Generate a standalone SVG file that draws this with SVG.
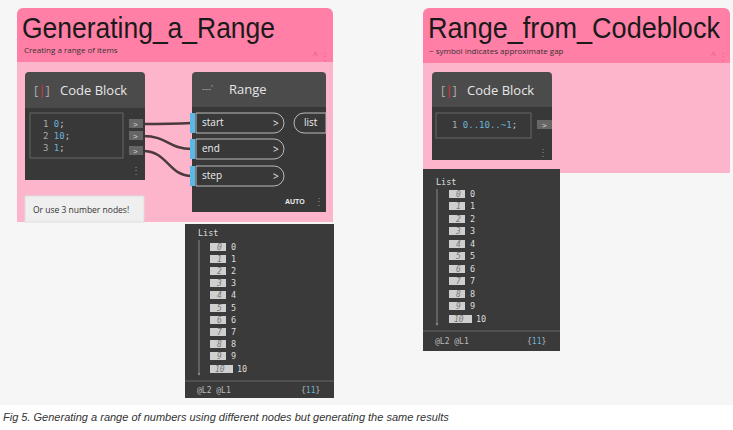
<svg xmlns="http://www.w3.org/2000/svg" width="733" height="430" viewBox="0 0 733 430">
<style>
.hd{fill:#ff7fa6}.bd{fill:#fdb5cc}
.title{font-family:"Liberation Sans",sans-serif;font-size:30px;fill:#1a1a1a}
.sub{font-family:"Open Sans","Liberation Sans",sans-serif;font-size:8px;fill:#333}
.nh{fill:#4b4b4b}.nb{fill:#383838}
.nt{font-family:"Open Sans","Liberation Sans",sans-serif;font-size:13px;fill:#e6e6e6}
.mono{font-family:"DejaVu Sans Mono","Liberation Mono",monospace;font-size:9px}
.ln{fill:#aaa}.num{fill:#6ab0d8}.semi{fill:#ccc}
.port{fill:#666}.pt{font-family:"Liberation Sans",sans-serif;font-size:8px;fill:#ddd}
.pill{fill:#383838;stroke:#bbb;stroke-width:1}
.pl{font-family:"Open Sans","Liberation Sans",sans-serif;font-size:10px;fill:#eee}
.wire{fill:none;stroke:#4a3a3a;stroke-width:2.5}
.idx{fill:#cfcfcf}.it{font-family:"DejaVu Sans Mono","Liberation Mono",monospace;font-size:8.5px;fill:#ddd}
.ii{font-family:"DejaVu Sans Mono","Liberation Mono",monospace;font-size:8px;font-style:italic;fill:#777}
.ft{font-family:"DejaVu Sans Mono","Liberation Mono",monospace;font-size:8px;fill:#bbb}
.dots{font-family:"Liberation Sans",sans-serif;font-size:10px;fill:#888}
</style>
<rect width="733" height="430" fill="#ffffff"/>
<rect x="0" y="0" width="733" height="405" fill="#f6f6f6"/>

<g id="group-left">
<path class="hd" d="M17 62V14a6 6 0 0 1 6-6h304a6 6 0 0 1 6 6v48z"/>
<rect class="bd" x="17" y="62" width="316" height="160"/>
<text class="title" x="22" y="38" textLength="253" lengthAdjust="spacingAndGlyphs">Generating_a_Range</text>
<text class="sub" x="24" y="53">Creating a range of items</text>
<text x="313" y="60" font-family="Liberation Sans,sans-serif" font-size="10" fill="#d86a8c">^ ⋮</text>
</g>

<g id="group-right">
<path class="hd" d="M423 63V14a6 6 0 0 1 6-6h295a6 6 0 0 1 6 6v49z"/>
<rect class="bd" x="423" y="63" width="307" height="110"/>
<text class="title" x="428" y="38" font-size="28" textLength="292" lengthAdjust="spacingAndGlyphs">Range_from_Codeblock</text>
<text class="sub" x="429" y="54">~ symbol indicates approximate gap</text>
<text x="711" y="60" font-family="Liberation Sans,sans-serif" font-size="10" fill="#d86a8c">^ ⋮</text>
</g>

<g id="connectors">
<path class="wire" d="M143 124C165 124 170 124 192 123"/>
<path class="wire" d="M143 136C168 136 168 149 192 149"/>
<path class="wire" d="M143 151C168 151 168 176 192 176"/>
</g>

<g id="codeblock-left">
<path class="nh" d="M25 108V76a4 4 0 0 1 4-4h112a4 4 0 0 1 4 4v32z"/>
<rect class="nb" x="25" y="108" width="120" height="72"/>
<text class="nt" x="34" y="95"><tspan fill="#aaa">[</tspan><tspan fill="#d33">|</tspan><tspan fill="#aaa">]</tspan></text>
<text class="nt" x="60" y="95">Code Block</text>
<rect x="30" y="113" width="93" height="45" fill="none" stroke="#666"/>
<text class="mono" x="43" y="127"><tspan class="ln">1 </tspan><tspan class="num">0</tspan><tspan class="semi">;</tspan></text>
<text class="mono" x="43" y="139"><tspan class="ln">2 </tspan><tspan class="num">10</tspan><tspan class="semi">;</tspan></text>
<text class="mono" x="43" y="151"><tspan class="ln">3 </tspan><tspan class="num">1</tspan><tspan class="semi">;</tspan></text>
<rect class="port" x="129" y="119" width="14" height="9"/><text class="pt" x="133" y="127">&gt;</text>
<rect class="port" x="129" y="131" width="14" height="9"/><text class="pt" x="133" y="139">&gt;</text>
<rect class="port" x="129" y="146" width="14" height="9"/><text class="pt" x="133" y="154">&gt;</text>
<text class="dots" x="131" y="174">⋮</text>
</g>

<g id="range-node">
<path class="nh" d="M192 107V76a4 4 0 0 1 4-4h126a4 4 0 0 1 4 4v31z"/>
<rect class="nb" x="192" y="107" width="134" height="105"/>
<text x="202" y="92" font-family="Liberation Sans,sans-serif" font-size="9" fill="#aaa">---ʼ</text>
<text class="nt" x="229" y="94">Range</text>
<path class="pill" d="M196 113h78a10 10 0 0 1 0 20h-78z"/>
<path class="pill" d="M196 139h78a10 10 0 0 1 0 20h-78z"/>
<path class="pill" d="M196 166h78a10 10 0 0 1 0 20h-78z"/>
<rect x="190" y="113" width="5" height="20" fill="#5ab8e6"/>
<rect x="190" y="139" width="5" height="20" fill="#5ab8e6"/>
<rect x="190" y="166" width="5" height="20" fill="#5ab8e6"/>
<text class="pl" x="202" y="126">start</text><text class="pl" x="273" y="127">&gt;</text>
<text class="pl" x="202" y="152">end</text><text class="pl" x="273" y="153">&gt;</text>
<text class="pl" x="202" y="179">step</text><text class="pl" x="273" y="180">&gt;</text>
<path class="pill" d="M326 113h-22a10 10 0 0 0 0 20h22z"/>
<text class="pl" x="304" y="126">list</text>
<text x="285" y="204" font-family="Liberation Sans,sans-serif" font-size="7" font-weight="bold" fill="#eee">AUTO</text>
<text class="dots" x="314" y="205">⋮</text>
</g>

<g id="note">
<rect x="25" y="196" width="119" height="26" fill="#efefef" stroke="#ddd"/>
<text x="33" y="213" font-family="Open Sans,Liberation Sans,sans-serif" font-size="8.5" fill="#333">Or use 3 number nodes!</text>
</g>

<g id="watch-left">
<rect x="185" y="224" width="149" height="174" fill="#3a3a3a"/>
<text class="it" x="198" y="236">List</text>
<line x1="199" y1="240" x2="199" y2="373" stroke="#888"/>
<circle cx="199" cy="374" r="1.2" fill="#888"/>
<g id="items-left">
<rect class="idx" x="210" y="243" width="16" height="8"/><text class="ii" x="217" y="250">0</text><text class="it" x="231" y="250">0</text>
<rect class="idx" x="210" y="255" width="16" height="8"/><text class="ii" x="217" y="262">1</text><text class="it" x="231" y="262">1</text>
<rect class="idx" x="210" y="267" width="16" height="8"/><text class="ii" x="217" y="274">2</text><text class="it" x="231" y="274">2</text>
<rect class="idx" x="210" y="279" width="16" height="8"/><text class="ii" x="217" y="286">3</text><text class="it" x="231" y="286">3</text>
<rect class="idx" x="210" y="291" width="16" height="8"/><text class="ii" x="217" y="298">4</text><text class="it" x="231" y="298">4</text>
<rect class="idx" x="210" y="304" width="16" height="8"/><text class="ii" x="217" y="311">5</text><text class="it" x="231" y="311">5</text>
<rect class="idx" x="210" y="316" width="16" height="8"/><text class="ii" x="217" y="323">6</text><text class="it" x="231" y="323">6</text>
<rect class="idx" x="210" y="328" width="16" height="8"/><text class="ii" x="217" y="335">7</text><text class="it" x="231" y="335">7</text>
<rect class="idx" x="210" y="340" width="16" height="8"/><text class="ii" x="217" y="347">8</text><text class="it" x="231" y="347">8</text>
<rect class="idx" x="210" y="352" width="16" height="8"/><text class="ii" x="217" y="359">9</text><text class="it" x="231" y="359">9</text>
<rect class="idx" x="210" y="365" width="23" height="8"/><text class="ii" x="215" y="372">10</text><text class="it" x="237" y="372">10</text>
</g>
<line x1="185" y1="381" x2="334" y2="381" stroke="#666"/>
<text class="ft" x="197" y="393">@L2 @L1</text>
<text class="ft" x="301" y="393"><tspan>{</tspan><tspan fill="#6ab0d8">11</tspan><tspan>}</tspan></text>
</g>

<g id="codeblock-right">
<path class="nh" d="M432 107V76a4 4 0 0 1 4-4h112a4 4 0 0 1 4 4v31z"/>
<rect class="nb" x="432" y="107" width="120" height="53"/>
<text class="nt" x="441" y="95"><tspan fill="#aaa">[</tspan><tspan fill="#d33">|</tspan><tspan fill="#aaa">]</tspan></text>
<text class="nt" x="467" y="95">Code Block</text>
<rect x="436" y="113" width="95" height="25" fill="none" stroke="#666"/>
<text class="mono" x="452" y="128"><tspan class="ln">1 </tspan><tspan class="num">0..10..~1</tspan><tspan class="semi">;</tspan></text>
<rect class="port" x="537" y="120" width="15" height="9"/><text class="pt" x="542" y="128">&gt;</text>
<text class="dots" x="538" y="156">⋮</text>
</g>

<g id="watch-right">
<rect x="423" y="169" width="137" height="182" fill="#3a3a3a"/>
<text class="it" x="436" y="185">List</text>
<line x1="437" y1="189" x2="437" y2="323" stroke="#888"/>
<circle cx="437" cy="324" r="1.2" fill="#888"/>
<g id="items-right">
<rect class="idx" x="449" y="190" width="16" height="8"/><text class="ii" x="456" y="197">0</text><text class="it" x="470" y="197">0</text>
<rect class="idx" x="449" y="202" width="16" height="8"/><text class="ii" x="456" y="209">1</text><text class="it" x="470" y="209">1</text>
<rect class="idx" x="449" y="215" width="16" height="8"/><text class="ii" x="456" y="222">2</text><text class="it" x="470" y="222">2</text>
<rect class="idx" x="449" y="227" width="16" height="8"/><text class="ii" x="456" y="234">3</text><text class="it" x="470" y="234">3</text>
<rect class="idx" x="449" y="240" width="16" height="8"/><text class="ii" x="456" y="247">4</text><text class="it" x="470" y="247">4</text>
<rect class="idx" x="449" y="252" width="16" height="8"/><text class="ii" x="456" y="259">5</text><text class="it" x="470" y="259">5</text>
<rect class="idx" x="449" y="265" width="16" height="8"/><text class="ii" x="456" y="272">6</text><text class="it" x="470" y="272">6</text>
<rect class="idx" x="449" y="277" width="16" height="8"/><text class="ii" x="456" y="284">7</text><text class="it" x="470" y="284">7</text>
<rect class="idx" x="449" y="290" width="16" height="8"/><text class="ii" x="456" y="297">8</text><text class="it" x="470" y="297">8</text>
<rect class="idx" x="449" y="302" width="16" height="8"/><text class="ii" x="456" y="309">9</text><text class="it" x="470" y="309">9</text>
<rect class="idx" x="449" y="315" width="23" height="8"/><text class="ii" x="454" y="322">10</text><text class="it" x="476" y="322">10</text>
</g>
<line x1="423" y1="331" x2="560" y2="331" stroke="#666"/>
<text class="ft" x="435" y="344">@L2 @L1</text>
<text class="ft" x="527" y="344"><tspan>{</tspan><tspan fill="#6ab0d8">11</tspan><tspan>}</tspan></text>
</g>

<text x="3" y="421" font-family="Liberation Sans,sans-serif" font-style="italic" font-size="11" fill="#333">Fig 5. Generating a range of numbers using different nodes but generating the same results</text>
</svg>
